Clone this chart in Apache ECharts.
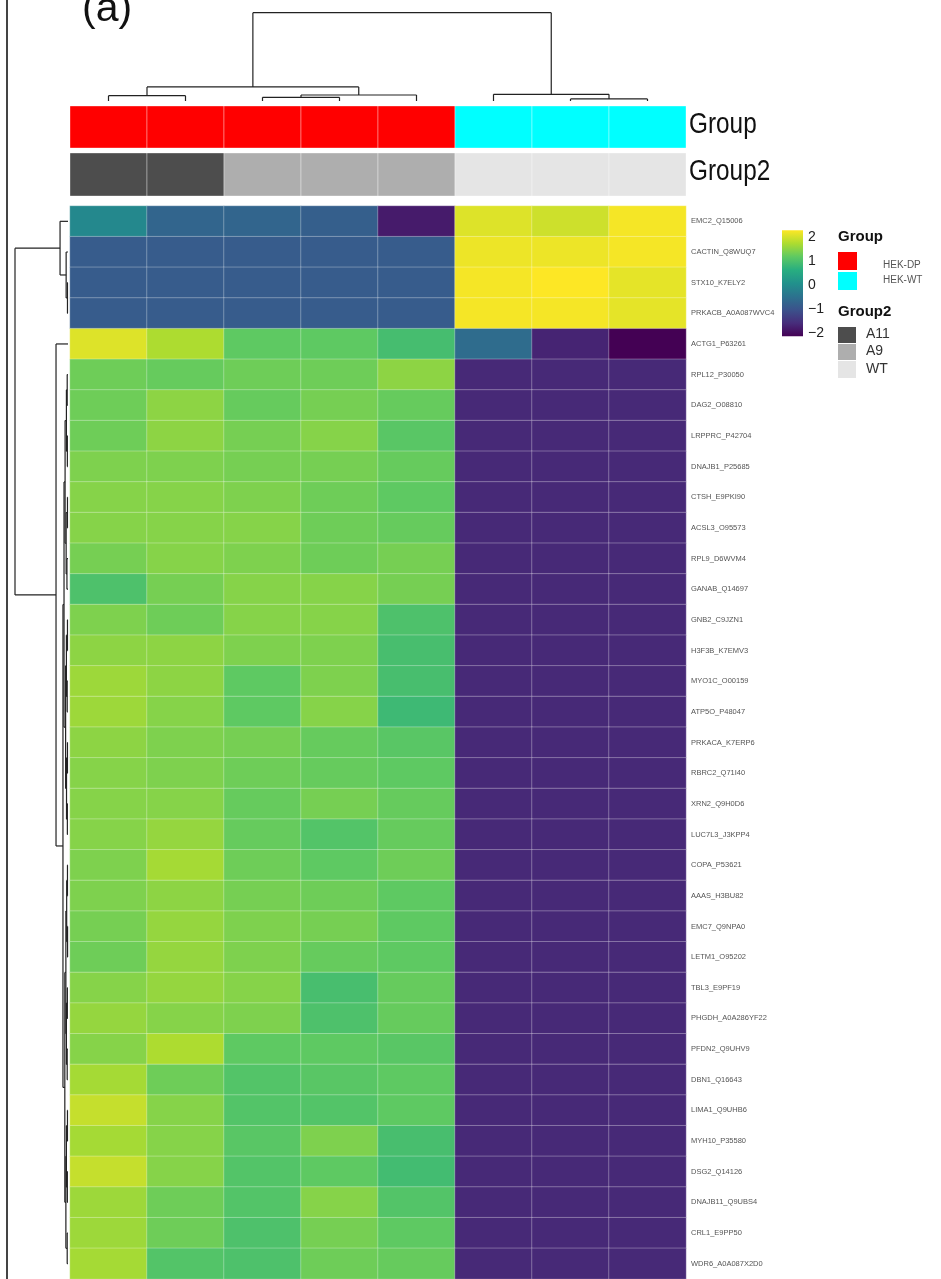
<!DOCTYPE html>
<html>
<head>
<meta charset="utf-8">
<script src="https://cdn.jsdelivr.net/npm/echarts@6/dist/echarts.min.js"></script>
<style>html,body{margin:0;padding:0;background:#fff}#c{width:941px;height:1279px}</style>
</head>
<body>
<div id="c"></div>
<script>
// ---------- data ----------
const samples = ['S1','S2','S3','S4','S5','S6','S7','S8'];
const groupOf = ['HEK-DP','HEK-DP','HEK-DP','HEK-DP','HEK-DP','HEK-WT','HEK-WT','HEK-WT'];
const group2Of = ['A11','A11','A9','A9','A9','WT','WT','WT'];
const proteins = ['EMC2_Q15006','CACTIN_Q8WUQ7','STX10_K7ELY2','PRKACB_A0A087WVC4','ACTG1_P63261',
  'RPL12_P30050','DAG2_O08810','LRPPRC_P42704','DNAJB1_P25685','CTSH_E9PKI90','ACSL3_O95573',
  'RPL9_D6WVM4','GANAB_Q14697','GNB2_C9JZN1','H3F3B_K7EMV3','MYO1C_O00159','ATP5O_P48047',
  'PRKACA_K7ERP6','RBRC2_Q71I40','XRN2_Q9H0D6','LUC7L3_J3KPP4','COPA_P53621','AAAS_H3BU82',
  'EMC7_Q9NPA0','LETM1_O95202','TBL3_E9PF19','PHGDH_A0A286YF22','PFDN2_Q9UHV9','DBN1_Q16643',
  'LIMA1_Q9UHB6','MYH10_P35580','DSG2_Q14126','DNAJB11_Q9UBS4','CRL1_E9PP50','WDR6_A0A087X2D0'];
const zscores = [
  [-0.15,-0.7,-0.7,-0.8,-1.7, 1.8, 1.7, 1.95],
  [-0.85,-0.85,-0.85,-0.85,-0.85, 1.9, 1.9, 1.95],
  [-0.85,-0.85,-0.85,-0.85,-0.85, 1.95, 2.0, 1.85],
  [-0.85,-0.85,-0.85,-0.85,-0.85, 1.95, 1.95, 1.85],
  [1.8, 1.5, 1.0, 1.0, 0.78, -0.6, -1.6, -2.0],
  [1.1, 1.05, 1.1, 1.1, 1.3, -1.55,-1.55,-1.55],
  [1.1, 1.3, 1.05, 1.15, 1.05, -1.55,-1.55,-1.55],
  [1.1, 1.3, 1.15, 1.25, 0.95, -1.55,-1.55,-1.55],
  [1.2, 1.2, 1.15, 1.15, 1.05, -1.55,-1.55,-1.55],
  [1.25, 1.25, 1.2, 1.1, 1.0, -1.55,-1.55,-1.55],
  [1.25, 1.25, 1.25, 1.1, 1.05, -1.55,-1.55,-1.55],
  [1.15, 1.25, 1.2, 1.1, 1.15, -1.55,-1.55,-1.55],
  [0.85, 1.15, 1.25, 1.25, 1.15, -1.55,-1.55,-1.55],
  [1.2, 1.1, 1.25, 1.25, 0.85, -1.55,-1.55,-1.55],
  [1.3, 1.3, 1.2, 1.2, 0.8, -1.55,-1.55,-1.55],
  [1.4, 1.3, 1.0, 1.2, 0.8, -1.55,-1.55,-1.55],
  [1.4, 1.25, 1.0, 1.25, 0.7, -1.55,-1.55,-1.55],
  [1.3, 1.2, 1.15, 1.05, 0.95, -1.55,-1.55,-1.55],
  [1.25, 1.2, 1.1, 1.05, 1.0, -1.55,-1.55,-1.55],
  [1.25, 1.25, 1.05, 1.15, 1.05, -1.55,-1.55,-1.55],
  [1.25, 1.35, 1.05, 0.9, 1.05, -1.55,-1.55,-1.55],
  [1.2, 1.45, 1.1, 1.0, 1.1, -1.55,-1.55,-1.55],
  [1.2, 1.3, 1.15, 1.1, 1.0, -1.55,-1.55,-1.55],
  [1.15, 1.35, 1.2, 1.15, 1.0, -1.55,-1.55,-1.55],
  [1.1, 1.35, 1.2, 1.05, 1.0, -1.55,-1.55,-1.55],
  [1.25, 1.35, 1.25, 0.8, 1.05, -1.55,-1.55,-1.55],
  [1.35, 1.25, 1.2, 0.85, 1.05, -1.55,-1.55,-1.55],
  [1.25, 1.5, 1.0, 1.0, 0.95, -1.55,-1.55,-1.55],
  [1.45, 1.1, 0.9, 0.95, 1.0, -1.55,-1.55,-1.55],
  [1.65, 1.25, 0.9, 0.9, 1.0, -1.55,-1.55,-1.55],
  [1.45, 1.25, 0.95, 1.2, 0.8, -1.55,-1.55,-1.55],
  [1.65, 1.25, 0.9, 1.0, 0.75, -1.55,-1.55,-1.55],
  [1.4, 1.1, 0.9, 1.25, 0.9, -1.55,-1.55,-1.55],
  [1.4, 1.1, 0.85, 1.15, 1.0, -1.55,-1.55,-1.55],
  [1.45, 0.9, 0.85, 1.1, 1.05, -1.55,-1.55,-1.55]
];
const colorTicks = [-2,-1,0,1,2];
// dendrograms: [left, right, height]; leaves are indices
const colTree = [[[0,1,0.6],[[2,3,0.42],4,0.68],1.59],[5,[6,7,0.23],0.76],10];
const rowTree = [
  [0,[1,[2,3,0.1],0.35],1.5],
  [4,[
    [[[[5,6,0.15],[7,8,0.12],0.3],[[9,10,0.1],[11,12,0.2],0.35],0.55],
     [[[13,14,0.1],[15,16,0.15],0.3],[[17,18,0.1],[19,20,0.12],0.28],0.45],0.75],
    [[[[21,22,0.1],[23,24,0.08],0.25],[[25,26,0.12],[27,28,0.15],0.3],0.4],
     [[[29,30,0.1],[31,32,0.12],0.3],[33,34,0.15],0.4],0.6],0.95],2.26],
  10];

// ---------- helpers ----------
const viridis = ['#440154','#472d7b','#3b528b','#2c728e','#21918c','#28ae80','#5ec962','#addc30','#fde725'];
const groupColors = {'HEK-DP':'#ff0000','HEK-WT':'#00ffff'};
const group2Colors = {'A11':'#4d4d4d','A9':'#aeaeae','WT':'#e5e5e5'};
function dendroSegments(tree){
  const segs=[];
  function walk(n){
    if(typeof n==='number') return {pos:n+0.5,h:0};
    const a=walk(n[0]), b=walk(n[1]), h=n[2];
    segs.push([a.pos,a.h,a.pos,h],[b.pos,b.h,b.pos,h],[a.pos,h,b.pos,h]);
    return {pos:(a.pos+b.pos)/2,h:h};
  }
  walk(tree);
  return segs;
}
const colSegs = dendroSegments(colTree);
const rowSegs = dendroSegments(rowTree).map(s=>[s[1],s[0],s[3],s[2]]);

const heatData=[];
zscores.forEach((row,r)=>row.forEach((v,c)=>heatData.push([c,r,v])));

const lineRender = function(params, api){
  const p1=api.coord([api.value(0),api.value(1)]);
  const p2=api.coord([api.value(2),api.value(3)]);
  return {type:'line',shape:{x1:p1[0],y1:p1[1],x2:p2[0],y2:p2[1]},style:{stroke:'#222',lineWidth:1.2}};
};
function annoRender(colors, keys){
  return function(params, api){
    const c=api.value(0);
    const p=api.coord([c,0]);
    const s=api.size([1,1]);
    return {type:'rect',shape:{x:p[0]-s[0]/2,y:p[1]-s[1]/2,width:s[0],height:s[1]},
      style:{fill:colors[keys[c]],stroke:'rgba(255,255,255,0.35)',lineWidth:1}};
  };
}
const hidden = {show:false};
const HM = {left:70, width:616};
const sans = "'Liberation Sans',Arial,sans-serif";

const chart = echarts.init(document.getElementById('c'), null, {renderer:'canvas'});
chart.setOption({
  backgroundColor:'#fff',
  animation:false,
  grid:[
    {left:HM.left, width:HM.width, top:206, height:1080},          // 0 heatmap
    {left:HM.left, width:HM.width, top:106, height:42},            // 1 Group
    {left:HM.left, width:HM.width, top:153, height:43},            // 2 Group2
    {left:70, width:616, top:12.7, height:88.3},                   // 3 col dendrogram
    {left:15, width:53, top:206, height:1080},                     // 4 row dendrogram
    {left:782, width:21, top:236.7, height:96.5}                   // 5 colour bar
  ],
  xAxis:[
    {gridIndex:0,type:'category',data:samples,show:false},
    {gridIndex:1,type:'category',data:samples,show:false},
    {gridIndex:2,type:'category',data:samples,show:false},
    {gridIndex:3,type:'value',min:0,max:8,show:false},
    {gridIndex:4,type:'value',min:0,max:10,inverse:true,show:false},
    {gridIndex:5,type:'value',min:0,max:1,show:false}
  ],
  yAxis:[
    {gridIndex:0,type:'category',data:proteins,inverse:true,position:'right',
      axisLine:hidden,axisTick:hidden,splitLine:hidden,
      axisLabel:{interval:0,fontSize:7.5,color:'#555',margin:5,fontFamily:sans}},
    {gridIndex:1,type:'category',data:['Group'],show:false},
    {gridIndex:2,type:'category',data:['Group2'],show:false},
    {gridIndex:3,type:'value',min:0,max:10,show:false},
    {gridIndex:4,type:'value',min:0,max:35,inverse:true,show:false},
    {gridIndex:5,type:'value',min:-2,max:2,interval:1,position:'right',
      axisLine:hidden,splitLine:hidden,
      axisTick:{show:true,inside:true,length:4,lineStyle:{color:'#fff',width:1}},
      axisLabel:{show:true,margin:5,fontSize:14,color:'#222',fontFamily:sans,
        formatter:v=>v<0?'\u2212'+Math.abs(v):String(v)}},
    {gridIndex:5,type:'value',min:-2,max:2,interval:1,position:'left',
      axisLine:hidden,splitLine:hidden,axisLabel:hidden,
      axisTick:{show:true,inside:true,length:4,lineStyle:{color:'#fff',width:1}}}
  ],
  visualMap:{show:false,type:'continuous',seriesIndex:0,min:-2,max:2,inRange:{color:viridis}},
  series:[
    {type:'heatmap',xAxisIndex:0,yAxisIndex:0,data:heatData,
      itemStyle:{borderColor:'rgba(255,255,255,0.3)',borderWidth:1}},
    {type:'custom',xAxisIndex:1,yAxisIndex:1,renderItem:annoRender(groupColors,groupOf),
      data:samples.map((s,i)=>[i,0])},
    {type:'custom',xAxisIndex:2,yAxisIndex:2,renderItem:annoRender(group2Colors,group2Of),
      data:samples.map((s,i)=>[i,0])},
    {type:'custom',xAxisIndex:3,yAxisIndex:3,renderItem:lineRender,data:colSegs,clip:false,
      encode:{x:[0,2],y:[1,3]}},
    {type:'custom',xAxisIndex:4,yAxisIndex:4,renderItem:lineRender,data:rowSegs,clip:false,
      encode:{x:[0,2],y:[1,3]}},
    {type:'custom',xAxisIndex:5,yAxisIndex:5,clip:false,data:[[0,-2.13,1,2.27]],
      encode:{x:[0,2],y:[1,3]},
      renderItem:function(params,api){
        const p1=api.coord([api.value(0),api.value(3)]);
        const p2=api.coord([api.value(2),api.value(1)]);
        const stops=viridis.slice().reverse().map((c,i,a)=>({offset:i/(a.length-1),color:c}));
        return {type:'rect',z2:-1,shape:{x:p1[0],y:p1[1],width:p2[0]-p1[0],height:p2[1]-p1[1]},
          style:{fill:new echarts.graphic.LinearGradient(0,0,0,1,stops)}};
      }}
  ],
  graphic:[
    {type:'line',shape:{x1:7,y1:0,x2:7,y2:1279},style:{stroke:'#444',lineWidth:2}},
    {type:'text',x:82,y:-11,style:{text:'(a)',fontSize:41,fill:'#111',fontFamily:sans}},
    {type:'text',x:689,y:110,scaleX:0.84,style:{text:'Group',fontSize:29,fill:'#111',fontFamily:sans}},
    {type:'text',x:689,y:157,scaleX:0.84,style:{text:'Group2',fontSize:29,fill:'#111',fontFamily:sans}},
    {type:'text',x:838,y:229,style:{text:'Group',fontSize:15,fontWeight:'bold',fill:'#111',fontFamily:sans}},
    {type:'rect',shape:{x:838,y:252,width:19,height:18},style:{fill:groupColors['HEK-DP']}},
    {type:'rect',shape:{x:838,y:272,width:19,height:18},style:{fill:groupColors['HEK-WT']}},
    {type:'text',x:883,y:260,style:{text:'HEK-DP',fontSize:10,fill:'#555',fontFamily:sans}},
    {type:'text',x:883,y:275,style:{text:'HEK-WT',fontSize:10,fill:'#555',fontFamily:sans}},
    {type:'text',x:838,y:304,style:{text:'Group2',fontSize:15,fontWeight:'bold',fill:'#111',fontFamily:sans}},
    {type:'rect',shape:{x:838,y:327,width:18,height:16},style:{fill:group2Colors['A11']}},
    {type:'rect',shape:{x:838,y:344,width:18,height:16},style:{fill:group2Colors['A9']}},
    {type:'rect',shape:{x:838,y:361,width:18,height:17},style:{fill:group2Colors['WT']}},
    {type:'text',x:866,y:327,style:{text:'A11',fontSize:14,fill:'#333',fontFamily:sans}},
    {type:'text',x:866,y:344,style:{text:'A9',fontSize:14,fill:'#333',fontFamily:sans}},
    {type:'text',x:866,y:362,style:{text:'WT',fontSize:14,fill:'#333',fontFamily:sans}}
  ]
});
</script>
</body>
</html>
